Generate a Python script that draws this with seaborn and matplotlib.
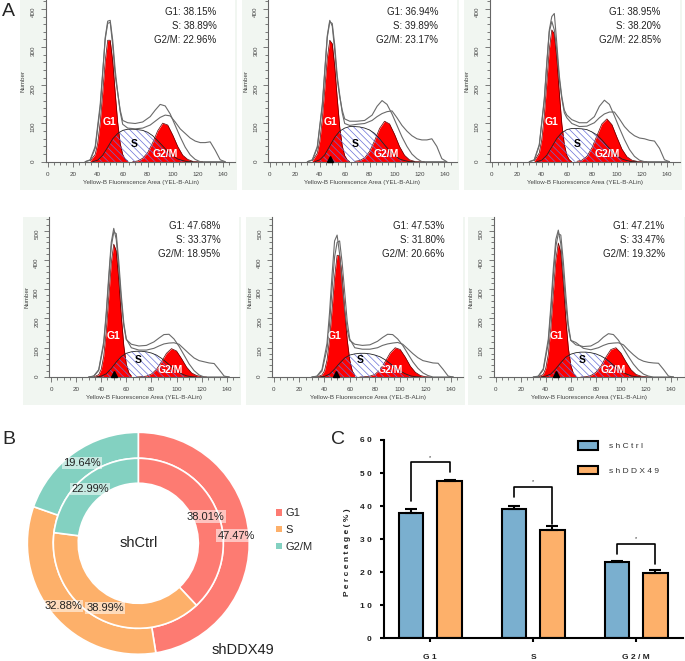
import numpy as np
import pandas as pd
import matplotlib
matplotlib.use("Agg")
import matplotlib.pyplot as plt
from matplotlib.patches import Rectangle, Patch
import seaborn as sns

sns.set_style("ticks")
plt.rcParams["font.family"] = ["Liberation Sans", "DejaVu Sans"]
plt.rcParams["hatch.linewidth"] = 0.5

# ---------------- data ----------------
# panel A: cell cycle histograms, counts
GREY_X = [30, 34, 38, 42, 44, 46, 48, 50, 52, 54, 56, 58, 60, 64, 70, 76,
          82, 86, 90, 94, 98, 102, 106, 110, 114, 118, 122, 126, 130, 134, 138, 142]
G1_X = [34, 38, 40, 42, 44, 46, 48, 50, 52, 54, 56, 58, 60, 62, 64]
S_X = [36, 40, 44, 48, 52, 56, 60, 64, 68, 72, 76, 80, 84, 88, 92, 96, 100, 104, 108, 112, 116]
G2M_X = [68, 72, 76, 80, 84, 88, 92, 96, 100, 104, 108, 112, 116, 120, 124]

a1_fit = [0, 5, 40, 150, 235, 320, 362, 365, 305, 225, 180, 135, 108, 102, 100, 104, 118, 135, 150, 146, 125, 95, 65, 38, 18, 6, 0, 0, 0, 0, 0, 0]
a1_raw = [0, 4, 35, 140, 230, 325, 368, 370, 318, 240, 182, 130, 98, 88, 86, 88, 96, 106, 116, 122, 120, 104, 86, 74, 62, 54, 50, 50, 52, 30, 5, 0]
a1_g1 = [2, 19, 48, 102, 180, 263, 318, 318, 263, 180, 102, 48, 19, 6, 2]
a1_s = [0, 4, 17, 38, 60, 74, 82, 85, 85, 84, 82, 77, 68, 55, 41, 27, 15, 7, 3, 0, 0]
a1_g2m = [0, 2, 9, 24, 50, 81, 101, 96, 70, 40, 17, 6, 1, 0, 0]
a1_pct = [38.15, 38.89, 22.96]

a2_fit = [0, 5, 40, 150, 240, 330, 370, 355, 290, 215, 170, 135, 112, 106, 106, 108, 122, 145, 160, 150, 125, 95, 65, 40, 20, 8, 0, 0, 0, 0, 0, 0]
a2_raw = [0, 4, 36, 145, 235, 325, 366, 362, 305, 225, 175, 128, 100, 95, 98, 100, 108, 118, 126, 131, 133, 115, 95, 80, 68, 60, 57, 57, 60, 40, 8, 0]
a2_g1 = [2, 22, 54, 111, 191, 271, 318, 309, 249, 166, 91, 42, 16, 5, 0]
a2_s = [0, 5, 18, 41, 64, 80, 88, 92, 92, 91, 88, 83, 74, 60, 44, 29, 17, 7, 3, 0, 0]
a2_g2m = [1, 3, 10, 27, 55, 87, 106, 99, 72, 40, 17, 5, 1, 0, 0]
a2_pct = [36.94, 39.89, 23.17]

a3_fit = [0, 5, 45, 165, 260, 345, 380, 388, 310, 225, 170, 135, 122, 110, 102, 102, 118, 145, 161, 150, 120, 88, 58, 32, 14, 4, 0, 0, 0, 0, 0, 0]
a3_raw = [0, 4, 42, 160, 255, 340, 367, 345, 290, 215, 165, 128, 115, 100, 92, 93, 102, 115, 125, 130, 130, 112, 92, 78, 68, 62, 60, 56, 54, 35, 5, 0]
a3_g1 = [2, 23, 58, 121, 207, 294, 345, 335, 270, 180, 99, 45, 17, 5, 0]
a3_s = [0, 4, 17, 39, 61, 76, 84, 87, 87, 86, 84, 78, 70, 57, 42, 28, 16, 7, 3, 0, 0]
a3_g2m = [1, 4, 14, 36, 68, 99, 112, 97, 64, 33, 13, 4, 1, 0, 0]
a3_pct = [38.95, 38.20, 22.85]

b1_fit = [0, 3, 25, 120, 220, 345, 460, 508, 470, 370, 260, 175, 128, 112, 106, 108, 120, 133, 145, 146, 130, 105, 75, 45, 22, 7, 0, 0, 0, 0, 0, 0]
b1_raw = [0, 3, 22, 110, 210, 330, 445, 495, 490, 395, 280, 185, 130, 100, 92, 92, 98, 106, 113, 116, 117, 112, 96, 80, 65, 56, 52, 48, 46, 25, 3, 0]
b1_g1 = [0, 8, 26, 71, 154, 271, 389, 454, 431, 333, 209, 107, 44, 15, 4]
b1_s = [0, 3, 11, 29, 51, 70, 81, 86, 88, 88, 86, 82, 75, 64, 50, 35, 22, 11, 4, 1, 0]
b1_g2m = [0, 1, 3, 10, 26, 52, 81, 97, 89, 63, 34, 14, 5, 1, 0]
b1_pct = [47.68, 33.37, 18.95]

b2_fit = [0, 3, 25, 115, 220, 350, 465, 485, 420, 320, 230, 160, 125, 112, 108, 110, 122, 135, 146, 145, 130, 108, 80, 52, 30, 14, 5, 0, 0, 0, 0, 0]
b2_raw = [0, 2, 20, 95, 180, 300, 410, 460, 465, 390, 290, 190, 130, 100, 95, 95, 100, 108, 113, 116, 118, 112, 96, 80, 66, 56, 52, 48, 47, 26, 3, 0]
b2_g1 = [0, 7, 21, 58, 127, 230, 341, 416, 416, 341, 230, 127, 58, 21, 7]
b2_s = [0, 2, 10, 27, 47, 65, 75, 79, 81, 81, 79, 75, 69, 59, 46, 32, 20, 11, 4, 1, 0]
b2_g2m = [0, 1, 3, 9, 25, 52, 82, 100, 94, 68, 37, 16, 5, 1, 0]
b2_pct = [47.53, 31.80, 20.66]

b3_fit = [0, 3, 28, 130, 240, 370, 470, 502, 455, 350, 245, 165, 125, 110, 104, 106, 120, 136, 148, 145, 126, 98, 70, 44, 24, 10, 3, 0, 0, 0, 0, 0]
b3_raw = [0, 2, 24, 115, 220, 345, 445, 490, 485, 395, 280, 180, 125, 118, 98, 93, 100, 108, 114, 116, 117, 110, 92, 76, 62, 54, 50, 48, 47, 26, 3, 0]
b3_g1 = [0, 9, 30, 77, 165, 285, 400, 458, 426, 322, 198, 99, 40, 13, 4]
b3_s = [0, 3, 10, 28, 49, 68, 78, 83, 85, 85, 83, 79, 72, 62, 48, 34, 21, 11, 4, 1, 0]
b3_g2m = [0, 1, 5, 16, 37, 68, 94, 100, 82, 52, 25, 9, 3, 1, 0]
b3_pct = [47.21, 33.47, 19.32]

# panels B and C: mean percentages
phases = ["G1", "S", "G2/M"]
groups = ["shCtrl", "shDDX49"]
shctrl_pct = [38.01, 38.99, 22.99]
shddx49_pct = [47.47, 32.88, 19.64]
shctrl_err = [1.1, 1.0, 0.4]
shddx49_err = [0.4, 1.1, 1.0]
# significance brackets: left end, top, right end
sig_brackets = [(41.4, 53.2, 50.3), (42.7, 45.9, 34.6), (25.4, 28.6, 22.5)]

phase_colors = ["#fd7b72", "#fdb06a", "#83d1c1"]
bar_colors = ["#7aafcf", "#fdb06a"]

# ---------------- figure ----------------
W, H = 685, 661
fig = plt.figure(figsize=(W / 100, H / 100), dpi=100)


def px_box(left, top, width, height):
    return [left / W, 1 - (top + height) / H, width / W, height / H]


XMIN, XMAX = -1.5, 150
hist_panels = [
    dict(fit=a1_fit, raw=a1_raw, g1=a1_g1, s=a1_s, g2m=a1_g2m, pct=a1_pct),
    dict(fit=a2_fit, raw=a2_raw, g1=a2_g1, s=a2_s, g2m=a2_g2m, pct=a2_pct),
    dict(fit=a3_fit, raw=a3_raw, g1=a3_g1, s=a3_s, g2m=a3_g2m, pct=a3_pct),
    dict(fit=b1_fit, raw=b1_raw, g1=b1_g1, s=b1_s, g2m=b1_g2m, pct=b1_pct),
    dict(fit=b2_fit, raw=b2_raw, g1=b2_g1, s=b2_s, g2m=b2_g2m, pct=b2_pct),
    dict(fit=b3_fit, raw=b3_raw, g1=b3_g1, s=b3_s, g2m=b3_g2m, pct=b3_pct),
]
# x pixel of 0 and 140, row, label x positions, marker x
hist_layout = [
    (47.7, 222.7, 0, (49.8, 69, 94), None),
    (270, 444.3, 0, (48.2, 68.3, 93.7), 48.2),
    (491.7, 667, 0, (47.9, 68.6, 92.2), None),
    (51, 226.7, 1, (49.7, 69.6, 94.8), 50.5),
    (274, 450.7, 1, (48.3, 68, 92.5), 49),
    (495.7, 671, 1, (48.7, 68.7, 94), 48.2),
]
rows = [
    dict(y0=161.7, ppy=0.382, ytop=423, lab_y=(105, 46, 21), stat_y=(393, 356, 319), mark_y=7),
    dict(y0=377, ppy=0.2926, ytop=548, lab_y=(141, 58, 24), stat_y=(516, 468, 420), mark_y=9.5),
]

for d, (x0, x140, r, lab_x, mark_x) in zip(hist_panels, hist_layout):
    row = rows[r]
    ppx = (x140 - x0) / 140
    left = x0 + XMIN * ppx
    width = (XMAX - XMIN) * ppx
    height = row["ytop"] * row["ppy"]
    top = row["y0"] - height
    fig.add_artist(Rectangle(((left - 26) / W, 1 - (row["y0"] + 28) / H),
                             (width + 28) / W, (height + 28) / H,
                             transform=fig.transFigure, facecolor="#f1f6f1",
                             edgecolor="none", zorder=-1))
    ax = fig.add_axes(px_box(left, top, width, height))
    ax.set_facecolor("white")

    ax.fill_between(G1_X, d["g1"], color="#ff0000", lw=0, zorder=2)
    ax.plot(G1_X, d["g1"], color="#5a0000", lw=0.5, zorder=2)
    ax.fill_between(G2M_X, d["g2m"], color="#ff0000", lw=0, zorder=2)
    ax.plot(G2M_X, d["g2m"], color="#5a0000", lw=0.5, zorder=2)
    ax.fill_between(S_X, d["s"], facecolor="none", edgecolor="#6870d6",
                    hatch="\\\\\\\\\\", lw=0, zorder=3)
    ax.plot(S_X, d["s"], color="#222222", lw=0.6, zorder=3)
    ax.plot(GREY_X, d["fit"], color="#6a6a6a", lw=0.8, zorder=4)
    ax.plot(GREY_X, d["raw"], color="#6a6a6a", lw=0.8, zorder=4)

    for txt, x, y, c in zip(phases, lab_x, row["lab_y"], ["white", "black", "white"]):
        ax.text(x, y, txt, color=c, fontsize=7.5, fontweight="bold",
                ha="center", va="center", zorder=5)
    for name, v, y in zip(phases, d["pct"], row["stat_y"]):
        ax.text(135, y, f"{name}: {v:.2f}%", ha="right", va="center",
                fontsize=7, color="#222222")
    if mark_x is not None:
        ax.plot(mark_x, row["mark_y"], marker="^", color="black", ms=4,
                clip_on=False, zorder=6)

    ax.set_xlim(XMIN, XMAX)
    ax.set_ylim(0, row["ytop"])
    ax.set_xticks(range(0, 141, 20))
    ax.set_xticks(range(0, 150, 5), minor=True)
    ax.set_yticks(range(0, int(row["ytop"]), 100))
    ax.set_yticks(range(0, int(row["ytop"]), 20), minor=True)
    ax.tick_params(which="both", direction="out", color="#666666", width=0.6,
                   labelsize=4.5, labelcolor="#444444", pad=3.5)
    ax.tick_params(which="major", length=3.6)
    ax.tick_params(which="minor", length=2)
    ax.tick_params(axis="y", labelrotation=90)
    ax.spines[["top", "right"]].set_visible(False)
    ax.spines[["left", "bottom"]].set_color("#666666")
    ax.spines[["left", "bottom"]].set_linewidth(0.8)
    ax.set_xlabel("Yellow-B Fluorescence Area (YEL-B-ALin)", fontsize=4.5, color="#444444")
    ax.xaxis.set_label_coords(0.5, -18.5 / height)
    ax.set_ylabel("Number", fontsize=4.5, color="#444444")
    ax.yaxis.set_label_coords((x0 - 22 - left) / width, 0.5)

# ---------------- panel B: donut ----------------
axb = fig.add_axes(px_box(25.1, 430.1, 226.4, 226.4))
outer, _ = axb.pie(shddx49_pct, radius=1.0, colors=phase_colors, startangle=90,
                   counterclock=False,
                   wedgeprops=dict(width=0.234, edgecolor="white", linewidth=1.2))
inner, _ = axb.pie(shctrl_pct, radius=0.766, colors=phase_colors, startangle=90,
                   counterclock=False,
                   wedgeprops=dict(width=0.225, edgecolor="white", linewidth=1.2))
axb.set_xlim(-1.02, 1.02)
axb.set_ylim(-1.02, 1.02)
for wedges, vals, rad in [(outer, shddx49_pct, 0.883), (inner, shctrl_pct, 0.655)]:
    for w, v in zip(wedges, vals):
        ang = np.deg2rad((w.theta1 + w.theta2) / 2)
        axb.text(rad * np.cos(ang), rad * np.sin(ang), f"{v:.2f}%", ha="center",
                 va="center", fontsize=8, color="#222222",
                 bbox=dict(boxstyle="square,pad=0.1", fc="white", ec="none", alpha=0.55))
axb.text(0, 0, "shCtrl", ha="center", va="center", fontsize=10.5, color="#222222")
fig.text(243 / W, 1 - 650 / H, "shDDX49", ha="center", va="center", fontsize=10.5,
         color="#222222")
fig.legend(handles=[Patch(facecolor=c, edgecolor="none") for c in phase_colors],
           labels=phases, loc="center left", bbox_to_anchor=(276 / W, 1 - 530 / H),
           frameon=False, fontsize=8, handlelength=0.5, handleheight=0.5,
           handletextpad=0.35, labelspacing=0.6, borderpad=0, borderaxespad=0)

# ---------------- panel C: bars ----------------
bar_df = pd.DataFrame({
    "phase": phases * 2,
    "group": [groups[0]] * 3 + [groups[1]] * 3,
    "pct": shctrl_pct + shddx49_pct,
})
axc = fig.add_axes(px_box(384.3, 440, 298.7, 198.3))
sns.barplot(data=bar_df, x="phase", y="pct", hue="group", order=phases,
            hue_order=groups, palette=bar_colors, saturation=1, width=0.75,
            gap=0.37, errorbar=None, edgecolor="black", linewidth=1.5,
            legend=False, ax=axc)
bars = sorted(axc.patches, key=lambda p: p.get_x())
centers = [p.get_x() + p.get_width() / 2 for p in bars]
heights = [p.get_height() for p in bars]
errs = [e for pair in zip(shctrl_err, shddx49_err) for e in pair]
axc.errorbar(centers, heights, yerr=[np.zeros(len(errs)), errs], fmt="none",
             ecolor="black", elinewidth=1.5, capsize=4.5, capthick=1.5, zorder=3)
for i, (yl, yt, yr) in enumerate(sig_brackets):
    xl, xr = centers[2 * i], centers[2 * i + 1]
    axc.plot([xl, xl, xr, xr], [yl, yt, yt, yr], color="black", lw=1.2)
    axc.text((xl + xr) / 2, yt + 0.8, "*", ha="center", va="bottom", fontsize=4)

axc.set_xlim(-0.447, 2.456)
axc.set_ylim(0, 60)
axc.set_yticks(range(0, 61, 10))
axc.set_yticklabels([" ".join(str(v)) for v in range(0, 61, 10)], fontweight="bold")
axc.set_xticks([0, 1, 2])
axc.set_xticklabels([" ".join(p) for p in phases], fontweight="bold")
axc.tick_params(length=3, width=1.5, color="black", labelsize=6, labelcolor="#222222")
axc.tick_params(axis="x", pad=8.4)
axc.tick_params(axis="y", pad=6)
sns.despine(ax=axc)
axc.spines[["left", "bottom"]].set_linewidth(1.5)
axc.spines[["left", "bottom"]].set_color("black")
axc.set_xlabel("")
axc.set_ylabel("P e r c e n t a g e ( % )", fontsize=6, fontweight="bold", color="#222222")
axc.yaxis.set_label_coords((350.5 - 384.3) / 298.7, 0.435)
axc.legend(handles=[Patch(facecolor=c, edgecolor="black", linewidth=1.5) for c in bar_colors],
           labels=["s h C t r l", "s h D D X 4 9"], loc="upper left",
           bbox_to_anchor=(577.7 / W, 1 - 441 / H), bbox_transform=fig.transFigure,
           frameon=False, fontsize=6, handlelength=2.4, handleheight=1.2,
           handletextpad=1.3, labelspacing=1.9, borderpad=0, borderaxespad=0,
           labelcolor="#333333")

# panel letters
fig.text(2 / W, 1 - 12 / H, "A", fontsize=14, va="center")
fig.text(2 / W, 1 - 439 / H, "B", fontsize=14, va="center")
fig.text(331 / W, 1 - 439 / H, "C", fontsize=14, va="center")

fig.savefig("out.png", dpi=100, facecolor="white")
